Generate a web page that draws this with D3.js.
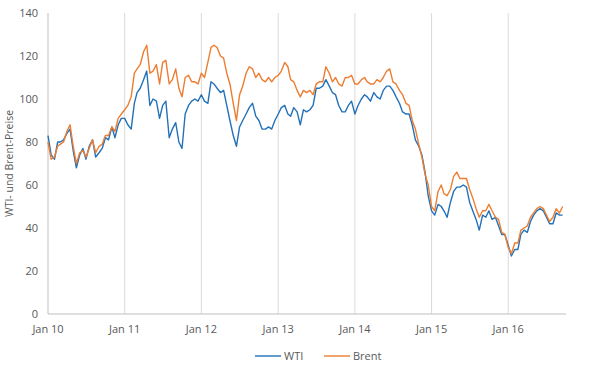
<!DOCTYPE html>
<head>
  <meta charset="utf-8">
  <script src="https://d3js.org/d3.v7.min.js"></script>
  <style>
    body { margin: 0; background: #fff; }
    text { font-family: "Open Sans", sans-serif; fill: #595959; }
  </style>
</head>
<body>
  <div id="chart"></div>
  <script>
    // Half-monthly readings (1st and 16th of each month), Jan 2010 - Sep 2016
    var wti = [
      83, 74, 72, 80, 80, 81, 84, 86, 76, 68, 74, 77, 72, 78, 81, 73, 75, 77, 82, 81, 87, 82, 88, 91,   // 2010
      91, 88, 86, 98, 103, 105, 109, 113, 97, 100, 99, 91, 97, 99, 82, 86, 89, 80, 77, 93, 97, 99, 100, 99, // 2011
      102, 99, 98, 108, 107, 105, 103, 104, 97, 90, 83, 78, 87, 90, 93, 96, 98, 92, 90, 86, 86, 87, 86, 90, // 2012
      93, 96, 97, 93, 92, 96, 94, 88, 95, 94, 95, 97, 105, 105, 106, 109, 106, 103, 102, 97, 94, 94, 97, 99, // 2013
      93, 97, 100, 102, 101, 99, 103, 101, 100, 104, 106, 106, 104, 101, 98, 94, 93, 93, 88, 81, 78, 74, 66, 55, // 2014
      48, 46, 51, 50, 48, 45, 52, 57, 59, 59, 60, 59, 52, 48, 44, 39, 46, 45, 48, 44, 45, 41, 37, 37, // 2015
      32, 27, 30, 30, 37, 39, 38, 43, 46, 48, 49, 48, 45, 42, 42, 47, 46, 46  // 2016
    ];
    var brent = [
      80, 72, 73, 78, 79, 80, 85, 88, 78, 70, 75, 76, 73, 77, 81, 75, 78, 79, 83, 83, 87, 85, 91, 93,  // 2010
      95, 97, 101, 112, 114, 116, 122, 125, 112, 113, 116, 107, 117, 118, 107, 109, 114, 105, 101, 110, 111, 108, 108, 107, // 2011
      112, 110, 117, 124, 125, 124, 120, 119, 112, 107, 98, 90, 102, 106, 112, 115, 114, 110, 112, 109, 108, 110, 108, 110, // 2012
      111, 113, 117, 115, 109, 108, 104, 101, 104, 103, 104, 102, 107, 108, 108, 115, 112, 108, 110, 107, 106, 110, 110, 111, // 2013
      107, 107, 109, 110, 108, 107, 107, 109, 108, 110, 113, 114, 108, 107, 104, 102, 98, 97, 90, 86, 79, 73, 65, 60, // 2014
      50, 48, 57, 60, 56, 55, 58, 64, 66, 63, 63, 63, 58, 54, 49, 45, 48, 48, 51, 48, 45, 44, 38, 37, // 2015
      31, 28, 33, 33, 39, 40, 41, 45, 47, 49, 50, 49, 46, 43, 45, 49, 47, 50  // 2016
    ];
    var years = [2010, 2011, 2012, 2013, 2014, 2015, 2016];
    var yTicks = [0, 20, 40, 60, 80, 100, 120, 140];
    var series = [
      { name: "WTI", values: wti, colour: "#2371b9" },
      { name: "Brent", values: brent, colour: "#ed7d31" }
    ];

    function dateOf(i) {
      return new Date(2010, Math.floor(i / 2), i % 2 ? 16 : 1);
    }

    var width = 590, height = 374;

    var svg = d3.select("#chart").append("svg")
        .attr("width", width)
        .attr("height", height);

    var x = d3.scaleTime()
        .domain([new Date(2010, 0, 1), new Date(2016, 9, 2)])
        .range([48, 566]);

    var y = d3.scaleLinear()
        .domain([0, 140])
        .range([314, 13]);

    // vertical year gridlines
    svg.append("g").selectAll("line")
        .data(years.slice(1))
        .enter().append("line")
        .attr("x1", function(d) { return x(new Date(d, 0, 1)); })
        .attr("x2", function(d) { return x(new Date(d, 0, 1)); })
        .attr("y1", y(140))
        .attr("y2", y(0))
        .style("stroke", "#d9d9d9")
        .style("stroke-width", 1);

    // axis lines
    svg.append("line")
        .attr("x1", x.range()[0]).attr("x2", x.range()[0])
        .attr("y1", y(140)).attr("y2", y(0))
        .style("stroke", "#bfbfbf");
    svg.append("line")
        .attr("x1", x.range()[0]).attr("x2", x.range()[1])
        .attr("y1", y(0)).attr("y2", y(0))
        .style("stroke", "#bfbfbf");

    // y tick labels
    svg.append("g").selectAll("text")
        .data(yTicks)
        .enter().append("text")
        .attr("x", 38)
        .attr("y", function(d) { return y(d) + 4; })
        .attr("text-anchor", "end")
        .style("font-size", "11px")
        .text(function(d) { return d; });

    // x tick labels
    svg.append("g").selectAll("text")
        .data(years)
        .enter().append("text")
        .attr("x", function(d) { return x(new Date(d, 0, 1)); })
        .attr("y", 333)
        .attr("text-anchor", "middle")
        .style("font-size", "11px")
        .text(function(d) { return "Jan " + String(d).slice(2); });

    // y axis title
    svg.append("text")
        .attr("transform", "translate(13," + ((y(0) + y(140)) / 2) + ") rotate(-90)")
        .attr("text-anchor", "middle")
        .style("font-size", "10.5px")
        .text("WTI- und Brent-Preise");

    var line = d3.line()
        .x(function(d, i) { return x(dateOf(i)); })
        .y(function(d) { return y(d); });

    series.forEach(function(s) {
      svg.append("path")
          .datum(s.values)
          .attr("d", line)
          .style("fill", "none")
          .style("stroke", s.colour)
          .style("stroke-width", 1.4)
          .style("stroke-linejoin", "round");
    });

    // legend
    var legend = svg.append("g").selectAll("g")
        .data(series)
        .enter().append("g")
        .attr("transform", function(d, i) { return "translate(" + (255 + i * 69) + ",356)"; });
    legend.append("line")
        .attr("x1", 0).attr("x2", 26)
        .style("stroke", function(d) { return d.colour; })
        .style("stroke-width", 1.4);
    legend.append("text")
        .attr("x", 29)
        .attr("y", 4)
        .style("font-size", "11px")
        .text(function(d) { return d.name; });
  </script>
</body>
